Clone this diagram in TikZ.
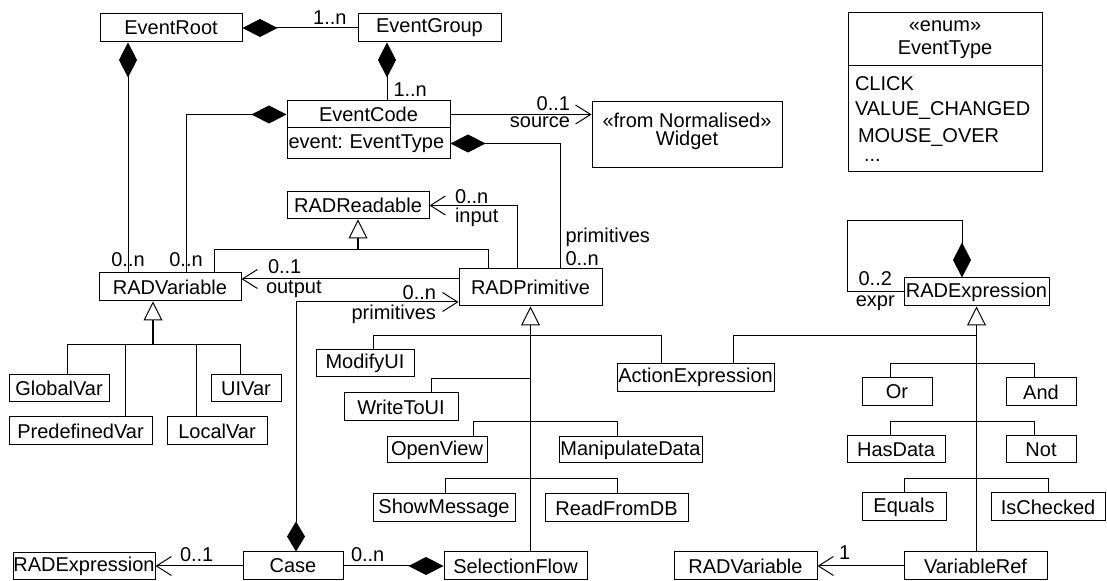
\documentclass[tikz,border=0pt]{standalone}
\usepackage{fontspec}
\setmainfont{Liberation Sans}
\usetikzlibrary{arrows.meta,positioning}

\begin{document}
\begin{tikzpicture}[x=0.5pt,y=-0.5pt,
  font=\fontsize{10}{12}\selectfont,
  cls/.style={draw,line width=0.5pt,inner sep=0pt,minimum height=14pt},
  mult/.style={inner sep=0pt},
  link/.style={line width=0.5pt},
  comp/.style={link,{Diamond[length=17.5pt,width=9pt]}-},
  nav/.style={link,-{Straight Barb[length=7.5pt,width=9.5pt]}},
  compnav/.style={link,{Diamond[length=15pt,width=9pt]}-{Straight Barb[length=7.5pt,width=9.5pt]}},
  gen/.style={line width=0.9pt,-{Triangle[open,length=9.5pt,width=9.5pt,line width=0.5pt]}}]
  \useasboundingbox (0,0) rectangle (1107,581);

  % Event classes
  \node[cls,minimum width=71pt] (evroot) at (171,28) {EventRoot};
  \node[cls,minimum width=71.5pt] (evgroup) at (429.5,28) {EventGroup};
  \node[cls,minimum width=81.5pt,minimum height=13.5pt] (evcode) at (368.5,114.5) {EventCode};
  \node[cls,minimum width=81.5pt,minimum height=15.5pt,text width=80pt,align=left] (evcodeattr) at (368.5,143.5) {\mbox{event:\ EventType}};
  \node[cls,minimum width=95pt,minimum height=33pt,align=center,text depth=5.6pt,
        font=\fontsize{10}{9.2}\selectfont] (widget) at (687,135) {«from Normalised»\\Widget};
  \node[cls,minimum width=97pt,minimum height=26.5pt,align=center,
        font=\fontsize{10}{11.5}\selectfont] (enumhead) at (945,39.5) {«enum»\\EventType};
  \node[cls,minimum width=97pt,minimum height=53pt,text width=90pt,align=left,
        font=\fontsize{10}{12.5}\selectfont] (enumbody) at (945,119)
        {CLICK\\VALUE\_CHANGED\\[1pt]\hspace*{1.5pt}MOUSE\_OVER\\[-3pt]\hspace*{4.5pt}...};

  % RAD core
  \node[cls,minimum width=71pt,minimum height=13.5pt] (rread) at (358,205.5) {RADReadable};
  \node[cls,minimum width=71.5pt,minimum height=18.5pt] (rprim) at (530.5,287.5) {RADPrimitive};
  \node[cls,minimum width=71pt] (rvar) at (170,287) {RADVariable};
  \node[cls,minimum width=72.5pt] (rexp) at (976.5,292) {RADExpression};

  % variables
  \node[cls,minimum width=50pt,minimum height=13.5pt] (globalvar) at (59,388.5) {GlobalVar};
  \node[cls,minimum width=35pt,minimum height=13.5pt] (uivar) at (246,388.5) {UIVar};
  \node[cls,minimum width=71.5pt] (predefvar) at (80.5,431) {PredefinedVar};
  \node[cls,minimum width=50pt] (localvar) at (217,431) {LocalVar};

  % primitives
  \node[cls,minimum width=49pt,minimum height=13.5pt] (modifyui) at (365,363.5) {ModifyUI};
  \node[cls,minimum width=57pt] (writetoui) at (401,407) {WriteToUI};
  \node[cls,minimum width=50pt,minimum height=13pt] (openview) at (437,450) {OpenView};
  \node[cls,minimum width=71.5pt,minimum height=13pt] (manipdata) at (630.5,450) {ManipulateData};
  \node[cls,minimum width=71pt] (showmsg) at (444,508) {ShowMessage};
  \node[cls,minimum width=71.5pt] (readdb) at (616.5,508) {ReadFromDB};
  \node[cls,minimum width=71.5pt] (selflow) at (515.5,566) {SelectionFlow};
  \node[cls,minimum width=50pt] (case) at (293,566) {Case};
  \node[cls,minimum width=71pt,minimum height=13.5pt] (casexp) at (84,566) {RADExpression};
  \node[cls,minimum width=78.5pt] (actexpr) at (695.5,377.5) {ActionExpression};

  % expressions
  \node[cls,minimum width=35pt] (exor) at (897,392) {Or};
  \node[cls,minimum width=35pt] (exand) at (1041,392) {And};
  \node[cls,minimum width=49pt,minimum height=13.5pt] (hasdata) at (896,449.5) {HasData};
  \node[cls,minimum width=35pt,minimum height=13.5pt] (exnot) at (1041,449.5) {Not};
  \node[cls,minimum width=42pt] (equals) at (904,507) {Equals};
  \node[cls,minimum width=57pt] (ischecked) at (1048,507) {IsChecked};
  \node[cls,minimum width=71.5pt] (varref) at (975.5,566) {VariableRef};
  \node[cls,minimum width=71.5pt] (refvar) at (745.5,566) {RADVariable};

  % drop points of the associations
  \coordinate (rootx) at (128,0);
  \coordinate (grpx) at (387,0);
  \coordinate (codex) at (186,0);
  \coordinate (primx) at (560,0);
  \coordinate (inx) at (517,0);
  \coordinate (outy) at (0,279);
  \coordinate (casep) at (296,302);
  \coordinate (rdl) at (214,250);
  \coordinate (rdr) at (488,250);
  \coordinate (vgen) at (153,345);
  \coordinate (selfa) at (962,221);
  \coordinate (selfb) at (847,221);

  % compositions
  \draw[comp] (evroot.east) -- (evgroup.west)
    node[mult,pos=0.76,above=1.4pt] {1..n};
  \draw[comp] (evroot.south -| rootx) -- (rvar.north -| rootx)
    node[mult,pos=0.944] {0..n};
  \draw[comp] (evgroup.south -| grpx) -- (evcode.north -| grpx)
    node[mult,pos=0.81,right=3pt] {1..n};
  \draw[comp] (evcode.west) -| (rvar.north -| codex)
    node[mult,pos=0.959] {0..n};
  \draw[comp] (evcodeattr.east) -| (rprim.north -| primx)
    node[mult,pos=1,anchor=south west,xshift=2.5pt,yshift=1pt,align=left,
         font=\fontsize{10}{11.5}\selectfont] {primitives\\0..n};
  \draw[comp] (selflow.west) -- (case.east)
    node[mult,pos=1,anchor=south west,xshift=3.5pt,yshift=2pt] {0..n};
  \draw[compnav] (case.north -| casep) |- (rprim.west |- casep)
    node[mult,pos=1,anchor=south east,xshift=-11pt,yshift=1pt] {0..n}
    node[mult,pos=1,anchor=north east,xshift=-11pt,yshift=-1.5pt] {primitives};
  \draw[comp] (rexp.north -| selfa) -- (selfa) -- (selfb) -- (selfb |- rexp.west) -- (rexp.west)
    node[mult,pos=0.5,above=2.9pt] {0..2}
    node[mult,pos=0.5,below=1.4pt] {expr};

  % navigable associations
  \draw[nav] (evcode.east) -- (evcode.east -| widget.west)
    node[mult,pos=1,anchor=south east,xshift=-10.5pt,yshift=1.5pt] {0..1}
    node[mult,pos=1,anchor=north east,xshift=-10.5pt,yshift=-1pt] {source};
  \draw[nav] (rprim.north -| inx) |- (rread.east)
    node[mult,pos=1,anchor=south west,xshift=12.5pt,yshift=0.7pt] {0..n}
    node[mult,pos=1,anchor=north west,xshift=12.5pt,yshift=-1.2pt] {input};
  \draw[nav] (rprim.west |- outy) -- (rvar.east |- outy)
    node[mult,pos=1,anchor=south west,xshift=13pt,yshift=2.4pt] {0..1}
    node[mult,pos=1,anchor=north west,xshift=12pt,yshift=-0.5pt] {output};
  \draw[nav] (case.west) -- (casexp.east)
    node[mult,pos=1,anchor=south west,xshift=12pt,yshift=2pt] {0..1};
  \draw[nav] (varref.west) -- (refvar.east)
    node[mult,pos=1,anchor=south west,xshift=10.5pt,yshift=3pt] {1};

  % generalizations
  \draw[link] (rvar.north -| rdl) -- (rdl) -- (rdr) -- (rprim.north -| rdr);
  \draw[gen] (rread.south |- rdl) -- (rread.south);

  \draw[gen] (vgen) -- (rvar.south -| vgen);
  \foreach \n/\x in {globalvar/67, predefvar/125, localvar/196, uivar/240}
    \draw[link] (\n.north -| \x,0) |- (vgen);

  \draw[gen] (selflow.north -| rprim.south) -- (rprim.south);
  \foreach \n/\x/\y in {modifyui/373/336, actexpr/661/336, writetoui/431/379,
      openview/473/422, manipdata/617/422, showmsg/445/479, readdb/617/479}
    \draw[link] (\n.north -| \x,0) |- (rprim.south |- 0,\y);

  \draw[gen] (varref.north -| rexp.south) -- (rexp.south);
  \foreach \n/\x/\y in {actexpr/733/336, exor/890/364, exand/1034/364,
      hasdata/890/422, exnot/1034/422, equals/904/479, ischecked/1048/479}
    \draw[link] (\n.north -| \x,0) |- (rexp.south |- 0,\y);
\end{tikzpicture}
\end{document}
